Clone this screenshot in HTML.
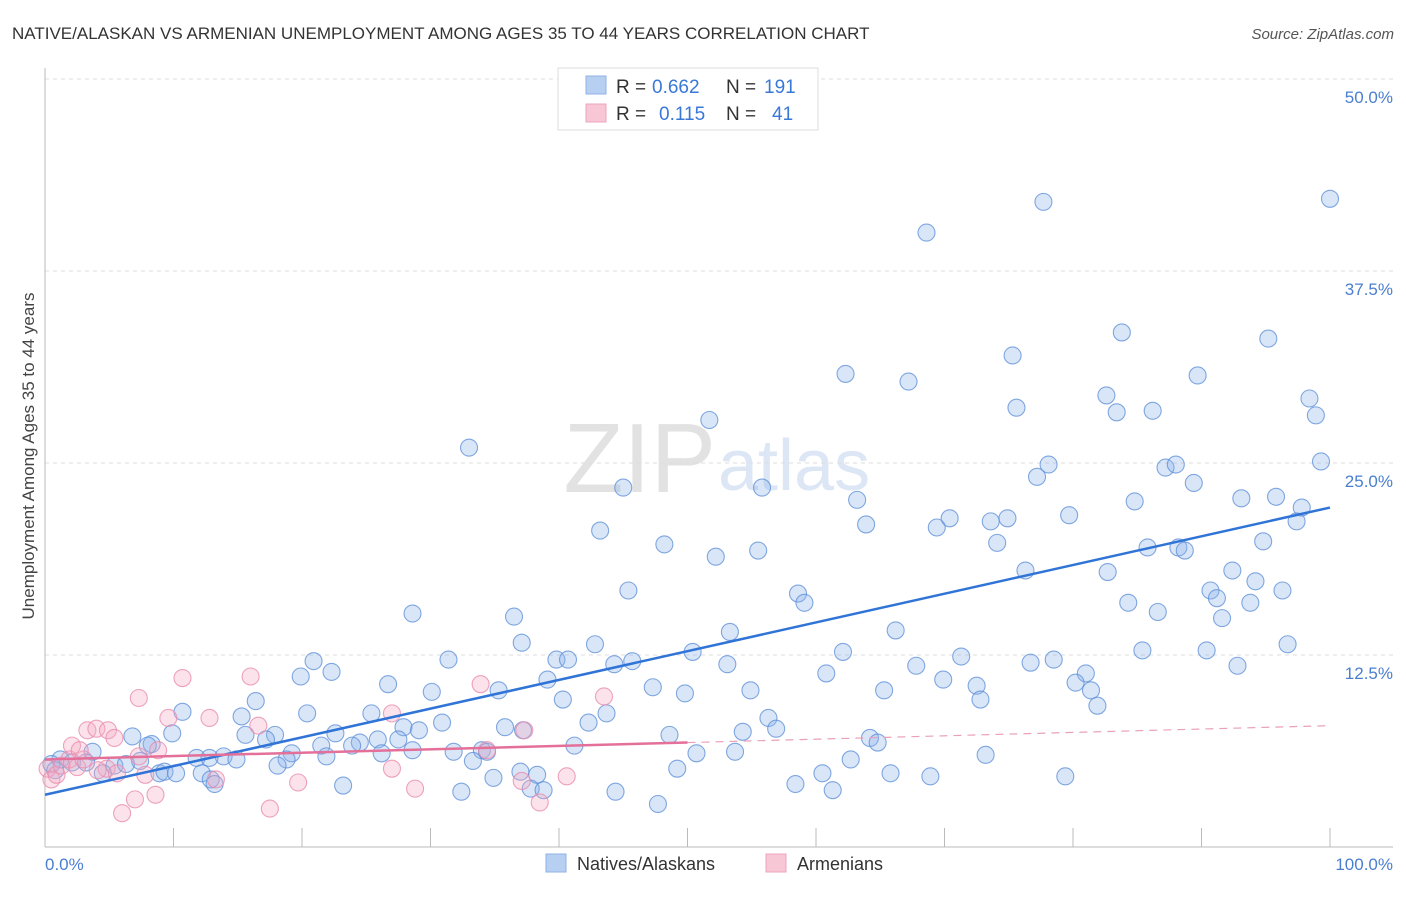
<!DOCTYPE html>
<html><head><meta charset="utf-8"><style>
body{margin:0;background:#fff;font-family:"Liberation Sans",sans-serif;}
svg text{font-family:"Liberation Sans",sans-serif;}
</style></head><body>
<svg id="chart" width="1406" height="892">
<text x="12" y="39" font-size="17" fill="#333">NATIVE/ALASKAN VS ARMENIAN UNEMPLOYMENT AMONG AGES 35 TO 44 YEARS CORRELATION CHART</text>
<text x="1394" y="39" font-size="15" fill="#555" text-anchor="end" font-style="italic">Source: ZipAtlas.com</text>
<text x="716" y="492" font-size="98" fill="#e2e2e2" text-anchor="end" font-family="Liberation Serif">ZIP</text>
<text x="718" y="490" font-size="72" fill="#dce6f5">atlas</text>
<g id="grid"></g>
<g id="axes"></g>
<g id="pts"></g>
<g id="lines"></g>
<text transform="translate(34,456) rotate(-90)" font-size="17" fill="#444" text-anchor="middle">Unemployment Among Ages 35 to 44 years</text>
<text x="45" y="870" font-size="17" fill="#4a7fd0">0.0%</text>
<text x="1393" y="870" font-size="17" fill="#4a7fd0" text-anchor="end">100.0%</text>
<g>
<rect x="558" y="68" width="260" height="62" fill="#fff" stroke="#ddd"/>
<rect x="586" y="76" width="20" height="18" fill="#b7d0f2" stroke="#8fb2e6"/>
<rect x="586" y="104" width="20" height="18" fill="#f8c7d6" stroke="#eea3bd"/>
<text x="616" y="93" font-size="19" fill="#333">R =</text>
<text x="652" y="93" font-size="19" fill="#3a78d8">0.662</text>
<text x="726" y="93" font-size="19" fill="#333">N =</text>
<text x="764" y="93" font-size="19" fill="#3a78d8">191</text>
<text x="616" y="120" font-size="19" fill="#333">R =</text>
<text x="659" y="120" font-size="19" fill="#3a78d8">0.115</text>
<text x="726" y="120" font-size="19" fill="#333">N =</text>
<text x="772" y="120" font-size="19" fill="#3a78d8">41</text>
</g>
<g>
<rect x="546" y="854" width="20" height="18" fill="#b7d0f2" stroke="#8fb2e6"/>
<text x="577" y="870" font-size="18" fill="#333">Natives/Alaskans</text>
<rect x="766" y="854" width="20" height="18" fill="#f8c7d6" stroke="#eea3bd"/>
<text x="797" y="870" font-size="18" fill="#333">Armenians</text>
</g>
</svg>
<script>
const yTicks=[12.5,25,37.5,50];
const yTickLabels=["12.5%","25.0%","37.5%","50.0%"];
const xTicks=[10,20,30,40,50,60,70,80,90,100];
const blueX=[100,77.7,68.6,83.8,95.2,75.3,62.3,67.2,89.7,82.6,98.4,75.6,83.4,86.2,98.9,51.7,33.0,99.3,87.2,88.0,78.1,77.2,89.4,45.0,55.8,63.2,93.1,95.8,97.8,84.8,79.7,70.4,74.9,73.6,63.9,69.4,97.4,43.2,74.1,94.8,48.2,85.8,88.2,88.7,55.5,52.2,76.3,92.4,82.7,94.2,45.4,90.7,96.3,58.6,59.1,91.2,84.3,93.8,28.6,36.5,86.6,91.6,66.2,53.3,37.1,42.8,96.7,62.1,85.4,90.4,50.4,71.3,20.9,31.4,39.8,40.7,44.3,45.7,53.1,67.8,76.7,78.5,92.8,22.3,19.9,60.8,81.0,69.9,39.1,26.7,80.2,72.5,47.3,30.1,35.3,49.8,54.9,65.3,81.4,40.3,72.8,16.4,81.9,10.7,20.4,15.3,25.4,43.7,56.3,42.3,30.9,27.9,35.8,56.9,37.2,54.3,9.9,6.8,17.9,22.6,29.1,15.6,48.6,64.2,25.9,17.2,27.5,64.8,24.5,8.3,8.0,21.5,23.9,34.0,41.2,28.6,31.8,21.9,19.2,26.2,34.4,50.7,53.7,73.2,13.9,11.8,1.2,3.7,12.8,14.9,18.8,33.3,62.7,7.4,5.4,6.3,0.5,2.1,3.2,18.1,8.9,9.3,10.2,4.5,12.2,49.2,60.5,65.8,68.9,79.4,37.0,38.3,34.9,12.9,13.2,23.2,58.4,37.8,38.8,32.4,61.3,44.4,47.7,0.8];
const blueY=[42.2,42.0,40.0,33.5,33.1,32.0,30.8,30.3,30.7,29.4,29.2,28.6,28.3,28.4,28.1,27.8,26.0,25.1,24.7,24.9,24.9,24.1,23.7,23.4,23.4,22.6,22.7,22.8,22.1,22.5,21.6,21.4,21.4,21.2,21.0,20.8,21.2,20.6,19.8,19.9,19.7,19.5,19.5,19.3,19.3,18.9,18.0,18.0,17.9,17.3,16.7,16.7,16.7,16.5,15.9,16.2,15.9,15.9,15.2,15.0,15.3,14.9,14.1,14.0,13.3,13.2,13.2,12.7,12.8,12.8,12.7,12.4,12.1,12.2,12.2,12.2,11.9,12.1,11.9,11.8,12.0,12.2,11.8,11.4,11.1,11.3,11.3,10.9,10.9,10.6,10.7,10.5,10.4,10.1,10.2,10.0,10.2,10.2,10.2,9.6,9.6,9.5,9.2,8.8,8.7,8.5,8.7,8.7,8.4,8.1,8.1,7.8,7.8,7.7,7.6,7.5,7.4,7.2,7.3,7.4,7.6,7.3,7.3,7.1,7.0,7.0,7.0,6.8,6.8,6.7,6.6,6.6,6.6,6.3,6.6,6.3,6.2,5.9,6.1,6.1,6.2,6.1,6.2,6.0,5.9,5.8,5.7,6.2,5.8,5.7,5.7,5.6,5.7,5.6,5.3,5.4,5.4,5.5,5.5,5.3,4.8,4.9,4.8,4.8,4.8,5.1,4.8,4.8,4.6,4.6,4.9,4.7,4.5,4.4,4.1,4.0,4.1,3.8,3.7,3.6,3.7,3.6,2.8,5.0];
const pinkX=[0.2,0.5,0.9,1.3,1.9,2.5,3.0,2.1,2.7,3.3,4.0,4.9,5.4,4.8,5.6,6.0,7.0,7.3,7.8,7.3,8.6,8.8,9.6,10.7,12.8,13.3,16.0,16.6,17.5,19.7,27.0,27.0,28.8,33.9,34.4,37.1,37.3,38.5,40.6,43.5,4.1];
const pinkY=[5.1,4.4,4.7,5.3,5.7,5.2,5.7,6.6,6.3,7.6,7.7,7.6,7.1,5.1,4.8,2.2,3.1,5.9,4.7,9.7,3.4,6.3,8.4,11.0,8.4,4.4,11.1,7.9,2.5,4.2,8.7,5.1,3.8,10.6,6.3,4.3,7.6,2.9,4.6,9.8,5.0];
const blueTrend=[3.4,22.1];
const pinkTrend=[5.7,7.9];
const pinkSolidEnd=50;
const NS="http://www.w3.org/2000/svg";
const X=v=>45+v*12.85, Y=v=>847-v*15.36;
function mk(t,a,p){const e=document.createElementNS(NS,t);for(const k in a)e.setAttribute(k,a[k]);p.appendChild(e);return e;}
const grid=document.getElementById('grid'),axes=document.getElementById('axes'),pts=document.getElementById('pts'),lines=document.getElementById('lines');
yTicks.forEach((t,i)=>{
 const l=mk('line',{x1:45,x2:1393,y1:Y(t),y2:Y(t),stroke:'#ddd','stroke-dasharray':'4,4'},grid);
 
 
 const tx=mk('text',{x:1393,y:Y(t)+24,'font-size':17,fill:'#4a7fd0','text-anchor':'end'},grid);
 tx.textContent=yTickLabels[i];
 
 
});
let a1=mk('line',{x1:45,x2:45,y1:68,y2:847,stroke:'#bbb'},axes);


let a2=mk('line',{x1:45,x2:1393,y1:847,y2:847,stroke:'#bbb'},axes);


xTicks.forEach(t=>{const l=mk('line',{x1:X(t),x2:X(t),y1:828,y2:847,stroke:'#bbb'},axes);
 
 });
blueX.forEach((x,i)=>{const c=mk('circle',{cx:X(x),cy:Y(blueY[i]),r:8.5,fill:'rgba(140,180,235,0.33)',stroke:'rgba(90,140,215,0.75)','stroke-width':1.1},pts);
 
 });
pinkX.forEach((x,i)=>{const c=mk('circle',{cx:X(x),cy:Y(pinkY[i]),r:8.5,fill:'rgba(245,170,195,0.33)',stroke:'rgba(232,140,175,0.8)','stroke-width':1.1},pts);
 
 });
let bl=mk('line',{x1:X(0),y1:Y(blueTrend[0]),x2:X(100),y2:Y(blueTrend[1]),stroke:'#2f74d6','stroke-width':2.5},lines);


const pm=pinkTrend[0]+(pinkTrend[1]-pinkTrend[0])*pinkSolidEnd/100;
let pl=mk('line',{x1:X(0),y1:Y(pinkTrend[0]),x2:X(pinkSolidEnd),y2:Y(pm),stroke:'#e4709a','stroke-width':2.5},lines);


let pd=mk('line',{x1:X(pinkSolidEnd),y1:Y(pm),x2:X(100),y2:Y(pinkTrend[1]),stroke:'#eaa0bb','stroke-width':1.2,'stroke-dasharray':'8,6'},lines);


</script>
</body></html>
